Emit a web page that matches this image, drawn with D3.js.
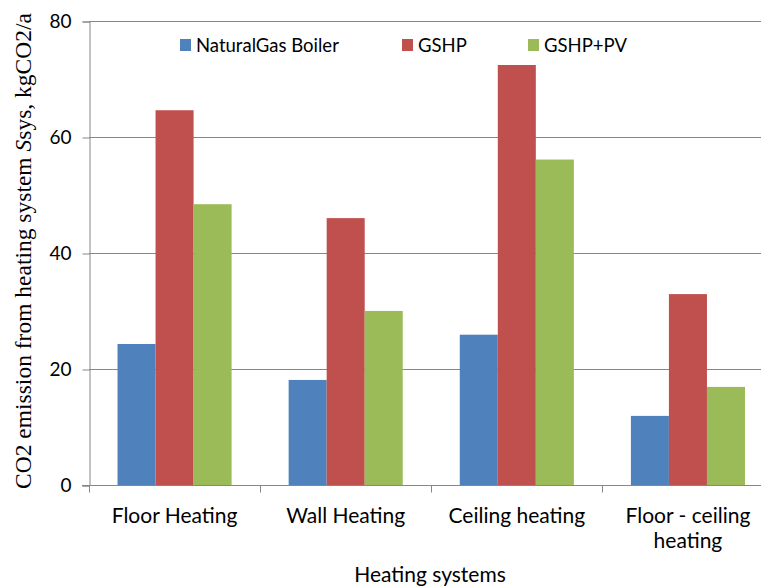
<!DOCTYPE html>
<html>
<head>
<meta charset="utf-8">
<script src="https://cdn.jsdelivr.net/npm/d3@7"></script>
<style>
  body { margin: 0; background: #fff; }
  svg { display: block; }
  .lbl { font-family: Lato, "Open Sans", sans-serif; fill: #000; }
</style>
</head>
<body>
<div id="chart"></div>
<script>
//chart data
var categories = ["Floor Heating", "Wall Heating", "Ceiling heating", "Floor - ceiling heating"];
var seriesNames = ["NaturalGas Boiler", "GSHP", "GSHP+PV"];
var naturalGas = [24.4, 18.2, 26.0, 12.0];
var gshp = [64.7, 46.1, 72.5, 33.0];
var gshpPv = [48.5, 30.1, 56.2, 17.0];
var yTicks = [0, 20, 40, 60, 80];

var colors = ["#4F81BD", "#C0504D", "#9BBB59"];
var seriesValues = [naturalGas, gshp, gshpPv];

//dimensions
var W = 761, H = 586;
var plotLeft = 89, plotRight = 773.5, plotTop = 21.5, plotBottom = 485.5;

var svg = d3.select("#chart").append("svg")
    .attr("width", W)
    .attr("height", H);

//scales
var x0 = d3.scaleBand().domain(categories).range([plotLeft, plotRight]).padding(0);
var bw = x0.bandwidth();
var x1 = d3.scaleBand().domain(seriesNames).range([bw / 6, bw * 5 / 6]).padding(0);
var y = d3.scaleLinear().domain([0, 80]).range([plotBottom, plotTop]);

//gridlines
svg.append("g")
    .selectAll("line")
    .data(yTicks.filter(d => d > 0))
    .join("line")
    .attr("x1", plotLeft).attr("x2", plotRight)
    .attr("y1", d => Math.floor(y(d)) + 0.5).attr("y2", d => Math.floor(y(d)) + 0.5)
    .attr("stroke", "#878787").attr("stroke-width", 1);

//bars
var rows = categories.map((c, i) => ({cat: c, vals: seriesNames.map((s, j) => ({s: s, v: seriesValues[j][i], c: colors[j]}))}));
svg.append("g")
    .selectAll("g")
    .data(rows)
    .join("g")
    .attr("transform", d => "translate(" + x0(d.cat) + ",0)")
    .selectAll("rect")
    .data(d => d.vals)
    .join("rect")
    .attr("x", d => x1(d.s))
    .attr("width", x1.bandwidth())
    .attr("y", d => y(d.v))
    .attr("height", d => y(0) - y(d.v))
    .attr("fill", d => d.c);

//y axis
var yAxis = svg.append("g")
    .attr("transform", "translate(" + (plotLeft + 0.5) + ",0)")
    .call(d3.axisLeft(y).tickValues(yTicks).tickSize(7).tickPadding(11));
yAxis.select(".domain").attr("stroke", "#878787");
yAxis.selectAll(".tick line").attr("stroke", "#878787");
yAxis.selectAll(".tick text").attr("class", "lbl").style("font-size", "19px").attr("fill", "#000");

//x axis
var xAxis = svg.append("g")
    .attr("transform", "translate(0," + plotBottom + ")");
xAxis.append("line")
    .attr("x1", plotLeft - 7).attr("x2", plotRight)
    .attr("stroke", "#878787");
xAxis.selectAll(".xt")
    .data(categories.concat(["end"]))
    .join("line")
    .attr("class", "xt")
    .attr("x1", (d, i) => Math.round(plotLeft + i * bw) + 0.5)
    .attr("x2", (d, i) => Math.round(plotLeft + i * bw) + 0.5)
    .attr("y1", 0).attr("y2", 7)
    .attr("stroke", "#878787");

//category labels, wrapped
var catLines = {"Floor - ceiling heating": ["Floor - ceiling", "heating"]};
xAxis.selectAll(".cat")
    .data(categories)
    .join("text")
    .attr("class", "lbl cat")
    .attr("text-anchor", "middle")
    .style("font-size", "21px")
    .attr("transform", d => "translate(" + (x0(d) + bw / 2) + ",37)")
    .selectAll("tspan")
    .data(d => catLines[d] || [d])
    .join("tspan")
    .attr("x", 0)
    .attr("dy", (d, i) => i === 0 ? 0 : 25)
    .text(d => d);

//x title
svg.append("text")
    .attr("class", "lbl")
    .attr("x", 430).attr("y", 582)
    .attr("text-anchor", "middle")
    .style("font-size", "21px")
    .text("Heating systems");

//y title
var yt = svg.append("text")
    .attr("transform", "translate(31,251) rotate(-90)")
    .attr("text-anchor", "middle")
    .style("font-family", "'Liberation Serif', 'Times New Roman', serif")
    .style("font-size", "23.5px")
    .attr("fill", "#000");
yt.append("tspan").text("CO2 emission from heating system ");
yt.append("tspan").style("font-style", "italic").text("S");
yt.append("tspan").text("sys, kgCO2/a");

//legend
var legendX = [180, 402, 528];
var lg = svg.append("g")
    .selectAll("g")
    .data(seriesNames)
    .join("g")
    .attr("transform", (d, i) => "translate(" + legendX[i] + ",39)");
lg.append("rect")
    .attr("width", 11).attr("height", 12)
    .attr("fill", (d, i) => colors[i]);
lg.append("text")
    .attr("class", "lbl")
    .attr("x", 16).attr("y", 12.5)
    .style("font-size", "18.5px")
    .text(d => d);
</script>
</body>
</html>
